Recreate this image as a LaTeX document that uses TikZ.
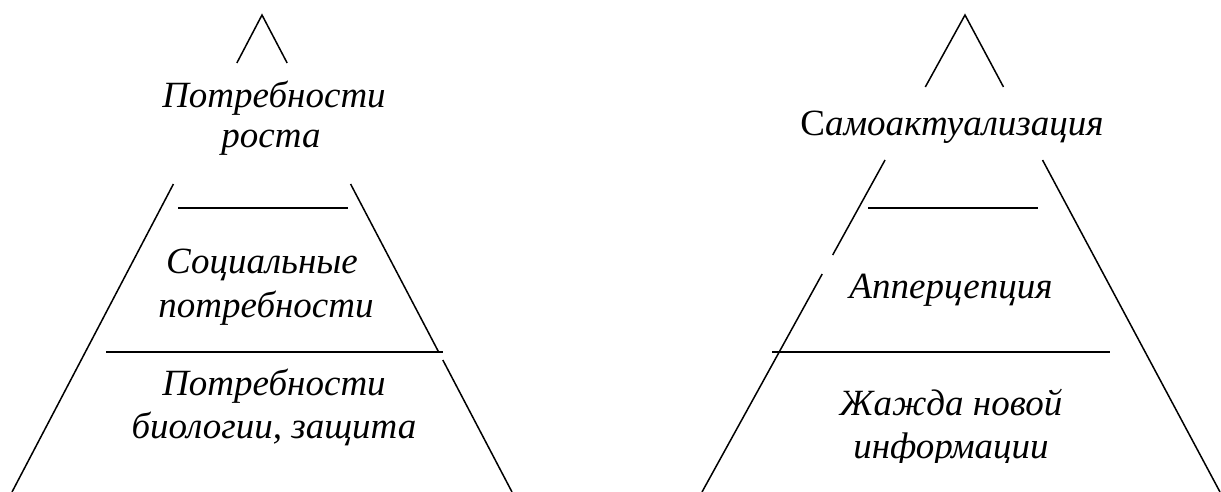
\documentclass[tikz,border=0pt]{standalone}
\usepackage{fontspec}
\setmainfont{Liberation Serif}
\usetikzlibrary{calc}
\tikzset{
  edge/.style={line width=1.5pt, line cap=butt},
  bar/.style={line width=1.6pt},
  label/.style={anchor=base, inner sep=0pt, font=\fontsize{37}{43}\selectfont\itshape},
}
\begin{document}
\begin{tikzpicture}[x=1pt, y=-1pt]
\useasboundingbox (0,0) rectangle (1221,492);

% ---- left pyramid: growth / social / biological needs ----
\coordinate (LA) at (262,15);
\coordinate (LL) at (12,492);
\coordinate (LR) at (512,492);
\draw[edge] ($(LA)!0.1006!(LL)$) -- (LA) -- ($(LA)!0.1006!(LR)$);
\draw[edge] ($(LA)!0.3543!(LL)$) -- (LL);
\draw[edge] ($(LA)!0.3543!(LR)$) -- ($(LA)!0.7065!(LR)$);
\draw[edge] ($(LA)!0.7233!(LR)$) -- (LR);
\coordinate (l1a) at (178,208); \coordinate (l1b) at (348,208);
\coordinate (l2a) at (106,352); \coordinate (l2b) at (443,352);
\draw[bar, line width=2pt] (l1a) -- (l1b);
\draw[bar, line width=1.3pt] (l2a) -- (l2b);

\node[label] (g1) at (274,108) {Потребности};
\node[label] (g2) at (271,148) {роста};
\node[label] (s1) at (262,273) {Социальные};
\node[label] (s2) at (266,317) {потребности};
\node[label] (b1) at (274,395) {Потребности};
\node[label] (b2) at (274,438) {биологии, защита};

% ---- right pyramid: self-actualisation / apperception / new information ----
\coordinate (RA) at (965,15);
\coordinate (RL) at (702,492);
\coordinate (RR) at (1220,492);
\draw[edge] ($(RA)!0.1509!(RL)$) -- (RA) -- ($(RA)!0.1509!(RR)$);
\draw[edge] ($(RA)!0.3040!(RL)$) -- ($(RA)!0.5031!(RL)$);
\draw[edge] ($(RA)!0.5430!(RL)$) -- (RL);
\draw[edge] ($(RA)!0.3040!(RR)$) -- (RR);
\coordinate (r1a) at (868,208); \coordinate (r1b) at (1038,208);
\coordinate (r2a) at (772,352); \coordinate (r2b) at (1110,352);
\draw[bar] (r1a) -- (r1b);
\draw[bar] (r2a) -- (r2b);

\node[label] (sa) at (952,136) {\upshape С\itshape амоактуализация};
\node[label] (ap) at (951,298) {Апперцепция};
\node[label] (ni1) at (951,415) {Жажда новой};
\begin{scope}
  \clip (800,420) rectangle (1100,462);
  \node[label] (ni2) at (951,458) {информации};
\end{scope}
\end{tikzpicture}
\end{document}
